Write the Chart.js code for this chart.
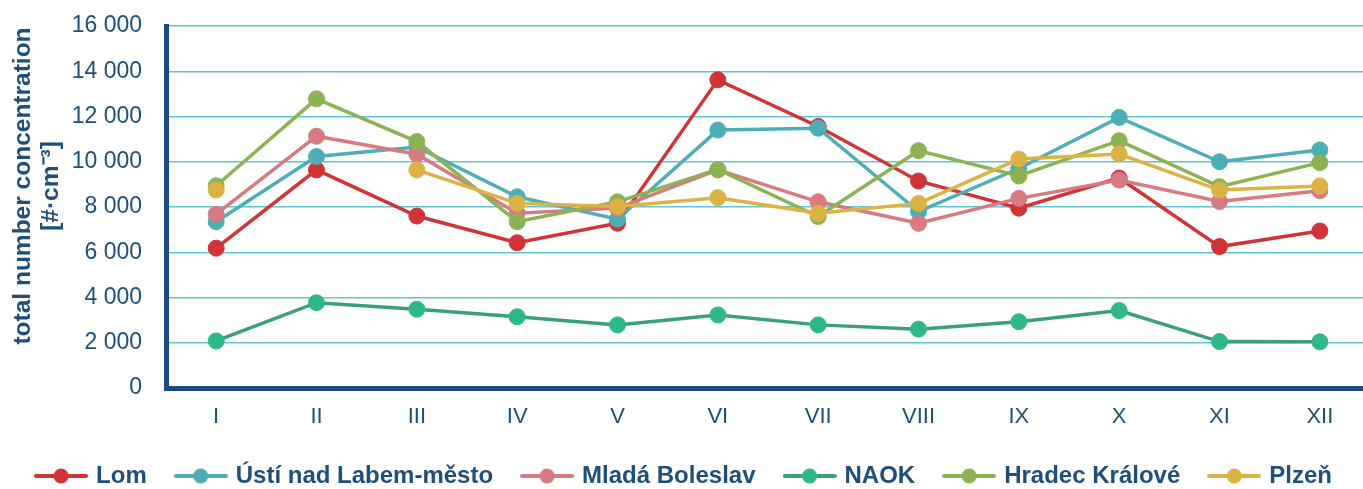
<!DOCTYPE html>
<html>
<head>
<meta charset="utf-8">
<script src="https://cdn.jsdelivr.net/npm/chart.js@4.4.0/dist/chart.umd.min.js"></script>
<style>
  html, body { margin: 0; padding: 0; background: #fff; overflow: hidden; }
  #clip { width: 1363px; height: 489px; overflow: hidden; }
  canvas { display: block; }
</style>
</head>
<body>
<div id="clip"><canvas id="chart" width="1371" height="489"></canvas></div>
<script>
// ── Data ────────────────────────────────────────────────────────────

const MONTHS = ['I', 'II', 'III', 'IV', 'V', 'VI', 'VII', 'VIII', 'IX', 'X', 'XI', 'XII'];

const LOM    = [6180, 9640, 7600, 6420, 7280, 13620, 11560, 9150, 7950, 9280, 6250, 6940];
const USTI   = [7350, 10230, 10650, 8450, 7460, 11400, 11480, 7800, 9700, 11960, 10000, 10520];
const MLADA  = [7680, 11130, 10330, 7720, 7950, 9640, 8230, 7280, 8380, 9190, 8240, 8720];
const NAOK   = [2080, 3770, 3480, 3150, 2790, 3230, 2790, 2600, 2930, 3420, 2050, 2040];
const HRADEC = [8940, 12780, 10890, 7350, 8230, 9660, 7580, 10490, 9370, 10930, 8900, 9960];
const PLZEN  = [8750, null, 9640, 8160, 8020, 8410, 7720, 8160, 10120, 10340, 8750, 8930];

const Y_TITLE = ['total number concentration', '[#·cm⁻³]'];

// ── Styling ─────────────────────────────────────────────────────────

const FONT = "'Liberation Sans', Arial, sans-serif";
const NAVY = '#1F4E79';
const AXIS = '#1C4A84';
const GRID = '#5CC6D4';

const SERIES = [
  { label: 'Lom',                  data: LOM,    line: '#D03436', dot: '#D03436' },
  { label: 'Ústí nad Labem-město', data: USTI,   line: '#4EAEB6', dot: '#4EAEB6' },
  { label: 'Mladá Boleslav',       data: MLADA,  line: '#D77A82', dot: '#D77A82' },
  { label: 'NAOK',                 data: NAOK,   line: '#3AA07A', dot: '#2EB88A' },
  { label: 'Hradec Králové',       data: HRADEC, line: '#8DB253', dot: '#8DB253' },
  { label: 'Plzeň',                data: PLZEN,  line: '#DDB245', dot: '#DDB245' },
];

// small line-with-dot icon for the legend
function legendMarker(line, dot) {
  const c = document.createElement('canvas');
  c.width = 54; c.height = 18;
  const g = c.getContext('2d');
  g.strokeStyle = line;
  g.lineWidth = 4;
  g.lineCap = 'round';
  g.beginPath(); g.moveTo(2, 9); g.lineTo(52, 9); g.stroke();
  g.fillStyle = dot;
  g.beginPath(); g.arc(27, 9, 7.5, 0, Math.PI * 2); g.fill();
  return c;
}

function fmtThousands(v) {
  return String(v).replace(/\B(?=(\d{3})+(?!\d))/g, ' ');
}

// rotated two-line y title, placed like the original
const yTitlePlugin = {
  id: 'yTitle',
  afterDraw(chart) {
    const ctx = chart.ctx;
    ctx.save();
    ctx.fillStyle = NAVY;
    ctx.font = `bold 24.5px ${FONT}`;
    ctx.textAlign = 'center';
    ctx.textBaseline = 'middle';
    ctx.translate(0, 186);
    ctx.rotate(-Math.PI / 2);
    ctx.fillText(Y_TITLE[0], 0, 23);
    ctx.fillText(Y_TITLE[1], 0, 51);
    ctx.restore();
  }
};

// ── Chart ───────────────────────────────────────────────────────────

const datasets = SERIES.map((s, i) => ({
  label: s.label,
  data: s.data,
  borderColor: s.line,
  backgroundColor: s.dot,
  borderWidth: 3.5,
  pointRadius: 8,
  pointHoverRadius: 8,
  pointBackgroundColor: s.dot,
  pointBorderColor: s.dot,
  pointBorderWidth: 1,
  tension: 0,
  spanGaps: false,
  order: SERIES.length - i,
}));

// canvas is a bit wider than the view: the plot runs past the right edge, like the original
new Chart(document.getElementById('chart'), {
  type: 'line',
  data: { labels: MONTHS, datasets },
  plugins: [yTitlePlugin],
  options: {
    responsive: false,
    animation: false,
    layout: { autoPadding: false, padding: { top: 26, left: 0, right: 1, bottom: -9 } },
    scales: {
      x: {
        offset: true,
        grid: { display: false, drawTicks: false },
        border: { display: true, color: AXIS, width: 5 },
        ticks: { color: NAVY, font: { family: FONT, size: 22 }, padding: 16 },
        afterFit: s => { s.height = 45; s.paddingLeft = 0; s.paddingRight = 0; },
      },
      y: {
        min: 0,
        max: 16000,
        grid: { color: GRID, lineWidth: 1.5, drawTicks: false },
        border: { display: true, color: AXIS, width: 5 },
        ticks: {
          stepSize: 2000,
          color: NAVY,
          padding: 24,
          font: { family: FONT, size: 23 },
          callback: v => fmtThousands(v),
        },
        afterFit: s => { s.width = 166; s.paddingTop = 0; s.paddingBottom = 0; },
      },
    },
    plugins: {
      tooltip: { enabled: false },
      legend: {
        position: 'bottom',
        labels: {
          usePointStyle: true,
          pointStyleWidth: 46,
          padding: 31,
          color: NAVY,
          font: { family: FONT, size: 24, weight: 'bold' },
          generateLabels: chart => SERIES.map((s, i) => ({
            text: s.label,
            pointStyle: legendMarker(s.line, s.dot),
            fillStyle: s.dot,
            strokeStyle: s.line,
            lineWidth: 0,
            fontColor: NAVY,
            hidden: false,
            datasetIndex: i,
          })),
        },
      },
    },
  },
});
</script>
</body>
</html>
